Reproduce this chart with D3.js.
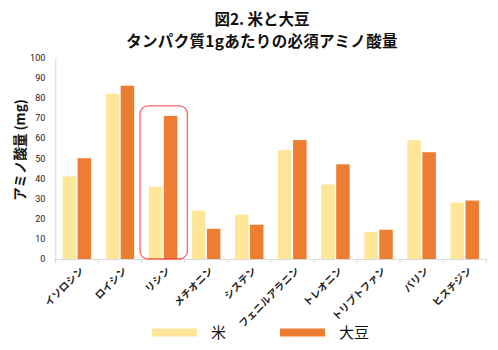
<!DOCTYPE html>
<html>
<head>
<meta charset="utf-8">
<script src="https://cdn.jsdelivr.net/npm/d3@7"></script>
<style>
  html, body { margin: 0; padding: 0; background: #fff; }
  svg { display: block; font-family: "Noto Sans CJK JP", "Noto Sans", sans-serif; }
</style>
</head>
<body>
<svg id="chart" width="498" height="350"></svg>
<script>
// Essential amino acids per 1 g of protein (mg)
const categories = ["イソロシン", "ロイシン", "リシン", "メチオニン", "システン", "フェニルアラニン", "トレオニン", "トリプトファン", "バリン", "ヒスチジン"];
const riceValues = [41, 82, 36, 24, 22, 54, 37, 13.5, 59, 28];
const soyValues = [50, 86, 71, 15, 17, 59, 47, 14.5, 53, 29];
const seriesNames = ["米", "大豆"];
const seriesColors = ["#FFE699", "#ED7D31"];
const yTicks = [0, 10, 20, 30, 40, 50, 60, 70, 80, 90, 100];
const highlighted = "リシン";

const svg = d3.select("#chart");
const margin = { left: 55.3, right: 11.7, top: 57.5, bottom: 91 };
const W = 498, H = 350;

const x = d3.scaleBand().domain(categories).range([margin.left, W - margin.right]);
const bw = x.bandwidth();
const x1 = d3.scaleBand().domain(seriesNames).range([bw * 0.17, bw * 0.83]).paddingInner(0.1);
const y = d3.scaleLinear().domain([0, 100]).range([H - margin.bottom, margin.top]);

const rows = categories.map((c, i) => ({ cat: c, vals: [riceValues[i], soyValues[i]] }));

// Title, two lines
const title = svg.append("g").attr("font-weight", "bold").attr("fill", "#111").attr("text-anchor", "middle");
title.append("text").attr("x", 262).attr("y", 25).attr("font-size", 15.5).text("図2. 米と大豆");
title.append("text").attr("x", 262).attr("y", 46.5).attr("font-size", 15.5)
  .attr("letter-spacing", 0.3).text("タンパク質1gあたりの必須アミノ酸量");

// Y axis labels (no gridlines)
const yAxis = d3.axisLeft(y).tickValues(yTicks).tickSize(0).tickPadding(10);
const yg = svg.append("g").attr("transform", `translate(${margin.left},0)`).call(yAxis);
yg.select(".domain").attr("stroke", "#d9d9d9").attr("stroke-width", 1);
yg.selectAll("text").attr("font-size", 9).attr("fill", "#222").attr("font-family", "Roboto, 'Liberation Sans', sans-serif");

// Y axis title
svg.append("text")
  .attr("transform", `translate(25,150) rotate(-90)`)
  .attr("text-anchor", "middle")
  .attr("font-size", 13.5).attr("font-weight", "bold").attr("fill", "#111")
  .text("アミノ酸量 (mg)");

// Bars
const groups = svg.append("g").selectAll("g").data(rows).join("g")
  .attr("transform", d => `translate(${x(d.cat)},0)`);
groups.selectAll("rect").data(d => d.vals.map((v, i) => ({ v, s: seriesNames[i], i })))
  .join("rect")
  .attr("x", d => x1(d.s))
  .attr("width", x1.bandwidth())
  .attr("y", d => y(d.v))
  .attr("height", d => y(0) - y(d.v))
  .attr("fill", d => seriesColors[d.i]);

// X axis line with tick marks at category boundaries
const xAxisG = svg.append("g");
xAxisG.append("line")
  .attr("x1", margin.left).attr("x2", W - margin.right)
  .attr("y1", y(0) + 0.5).attr("y2", y(0) + 0.5)
  .attr("stroke", "#d9d9d9");
const bounds = categories.map(c => x(c)).concat([x(categories[categories.length - 1]) + bw]);
xAxisG.selectAll("line.tk").data(bounds).join("line").attr("class", "tk")
  .attr("x1", d => d).attr("x2", d => d)
  .attr("y1", y(0)).attr("y2", y(0) + 4)
  .attr("stroke", "#d9d9d9");

// Category labels, rotated
svg.append("g").selectAll("text").data(categories).join("text")
  .attr("transform", d => `translate(${x(d) + bw / 2 + 5},${y(0) + 10}) rotate(-45)`)
  .attr("text-anchor", "end")
  .attr("font-size", 10).attr("font-weight", "bold").attr("fill", "#222")
  .attr("dy", "0.35em")
  .text(d => d);

// Highlight box around one category
const hx = x(highlighted);
svg.append("rect")
  .attr("x", hx - bw * 0.035).attr("y", y(76))
  .attr("width", bw * 1.1).attr("height", y(0) - y(76))
  .attr("rx", 8).attr("ry", 8)
  .attr("fill", "none").attr("stroke", "#ff3030").attr("stroke-opacity", 0.75).attr("stroke-width", 1.3);

// Legend
const legend = svg.append("g");
const legX = [152, 280];
seriesNames.forEach((s, i) => {
  legend.append("rect").attr("x", legX[i]).attr("y", 328.5).attr("width", 45).attr("height", 8).attr("fill", seriesColors[i]);
  legend.append("text").attr("x", legX[i] + 59).attr("y", 333).attr("dy", "0.35em")
    .attr("font-size", 15).attr("fill", "#111").text(s);
});
</script>
</body>
</html>
